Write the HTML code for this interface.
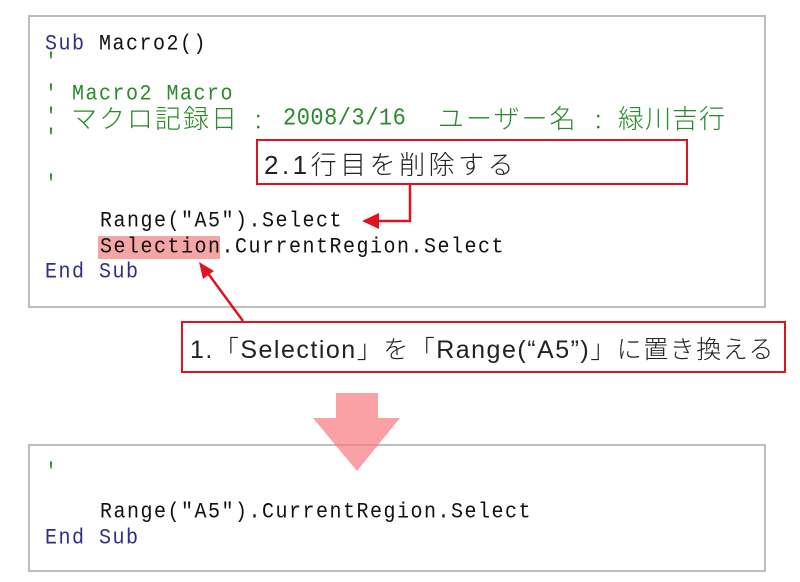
<!DOCTYPE html>
<html><head><meta charset="utf-8"><style>
body{margin:0;width:800px;height:582px;background:#fff;position:relative;overflow:hidden;font-family:"Liberation Mono","Noto Sans CJK JP",monospace;}
.box{position:absolute;border:2px solid #bdbdbd;background:#fff;}
.t{position:absolute;font-size:20px;white-space:pre;line-height:24px;letter-spacing:1.5px;color:#111;transform:scaleY(1.1);transform-origin:left top}
.n{color:#2e2e8a}.g{color:#2a8a2a}
.j{position:absolute;font-family:"Noto Sans CJK JP",sans-serif;font-size:26px;line-height:28px;white-space:pre;color:#2a8a2a;font-weight:300}
.rb{position:absolute;border:2px solid #e0141e;background:#fff;font-family:"Liberation Sans","Noto Sans CJK JP",sans-serif;color:#222;white-space:pre;box-sizing:border-box;font-weight:300}
</style></head><body>
<div class="box" style="left:28px;top:15px;width:734px;height:289px"></div>
<div class="box" style="left:28px;top:444px;width:734px;height:124px"></div>
<div style="position:absolute;left:98px;top:236px;width:122px;height:23px;background:#f5a5a5"></div>
<div class="t" style="left:45px;top:32px"><span class="n">Sub</span> Macro2()</div>
<div class="t g" style="left:45px;top:50px">'</div>
<div class="t g" style="left:45px;top:82px">' Macro2 Macro</div>
<div class="t g" style="left:45px;top:105px">'</div>
<div class="j" style="left:71px;top:104px;letter-spacing:2px">マクロ記録日</div>
<div class="j" style="left:255px;top:104px">:</div>
<div class="t g" style="left:283px;top:106px;font-size:22px;letter-spacing:0.5px">2008/3/16</div>
<div class="j" style="left:438px;top:104px;letter-spacing:2px">ユーザー名</div>
<div class="j" style="left:595px;top:104px">:</div>
<div class="j" style="left:618px;top:104px;letter-spacing:1px">緑川吉行</div>
<div class="t g" style="left:45px;top:126px">'</div>
<div class="t g" style="left:45px;top:172px">'</div>
<div class="t" style="left:100px;top:209px">Range("A5").Select</div>
<div class="t" style="left:100px;top:235px">Selection.CurrentRegion.Select</div>
<div class="t n" style="left:45px;top:260px">End Sub</div>
<div class="rb" style="left:256px;top:139px;width:432px;height:46px;padding:4px 0 0 6px;font-size:26px;letter-spacing:3.5px">2.1行目を削除する</div>
<div class="rb" style="left:181px;top:321px;width:605px;height:52px;padding:7px 0 0 7px;font-size:25px;letter-spacing:1.5px">1.「Selection」を「Range(“A5”)」に置き換える</div>
<svg style="position:absolute;left:0;top:0" width="800" height="582">
<polyline points="410,185 410,221 378,221" fill="none" stroke="#e0141e" stroke-width="2.5"/>
<polygon points="362,221 379,213 379,229" fill="#e0141e"/>
<line x1="243" y1="321" x2="207" y2="272" stroke="#e0141e" stroke-width="2.5"/>
<polygon points="199,262 214,271 203,279" fill="#e0141e"/>
</svg>
<div class="t g" style="left:45px;top:460px">'</div>
<div class="t" style="left:100px;top:500px">Range("A5").CurrentRegion.Select</div>
<div class="t n" style="left:45px;top:526px">End Sub</div>
<svg style="position:absolute;left:0;top:0;opacity:0.7" width="800" height="582">
<polygon points="336,393 378,393 378,418 400,418 357,471 313,418 336,418" fill="#f87a80"/>
</svg>
</body></html>
